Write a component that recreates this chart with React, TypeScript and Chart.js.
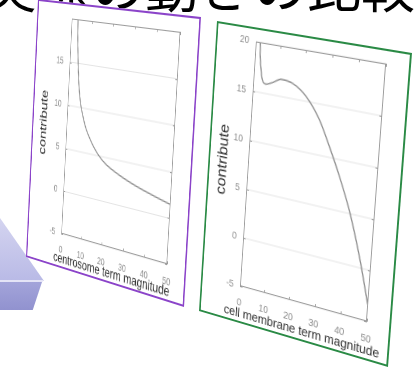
import { useEffect, useRef } from "react";
import { Chart, registerables } from "chart.js";

Chart.register(...registerables);

// ---- data ----
const titleText = "実際の動きの比較";

const xTickValues = [0, 10, 20, 30, 40, 50];

const centrosomeTicksY = [-5, 0, 5, 10, 15];
const centrosomeMagnitude = [3.0, 3.1, 3.8, 5.0, 6.2, 7.6, 9.4, 12.0, 15.5, 19.6, 26.2, 34.3, 42.4, 50];
const centrosomeContribute = [21.5, 20, 16.4, 12.8, 10.7, 9.3, 7.9, 6.6, 5.3, 4.3, 3.4, 2.6, 2.0, 1.5];

const membraneTicksY = [-5, 0, 5, 10, 15, 20];
const membraneMagnitude = [1.7, 1.8, 2.8, 3.6, 5.0, 7.5, 11.2, 15.7, 21.1, 26.8, 31.3, 35.9, 40.8, 45.9, 50];
const membraneContribute = [21, 20, 17.3, 16.3, 15.95, 16.2, 16.7, 16.5, 15.5, 13.5, 11.1, 8.4, 5.1, 0.7, -3.5];

const FONT = "'Liberation Sans', Arial, sans-serif";

type Pt = [number, number];

interface PanelSpec {
  w: number;
  h: number;
  quad: Pt[];
  area: { left: number; right: number; top: number; bottom: number };
  border: string;
  xs: number[];
  ys: number[];
  yTicks: number[];
  xTitle: string;
  tickSize: number;
  yTitleSize: number;
  xTitleSize: number;
  xTickPad: number;
  yTickPad: number;
  xTitleOffset: number;
  xTitleShift: number;
  yTitlePad: number;
}

const panels: PanelSpec[] = [
  {
    w: 240,
    h: 275,
    quad: [[38, -1], [201, 17], [184, 307], [26, 257]],
    area: { left: 56, right: 214, top: 8, bottom: 239 },
    border: "#8b44c9",
    xs: centrosomeMagnitude,
    ys: centrosomeContribute,
    yTicks: centrosomeTicksY,
    xTitle: "centrosome term magnitude",
    tickSize: 10,
    yTitleSize: 15.5,
    xTitleSize: 14,
    xTickPad: 3,
    yTickPad: 10,
    xTitleOffset: 26.5,
    xTitleShift: -3,
    yTitlePad: 7.7,
  },
  {
    w: 220,
    h: 302,
    quad: [[217, 21], [412, 53], [388, 367], [199, 311]],
    area: { left: 48, right: 194, top: 14, bottom: 264 },
    border: "#2a8a45",
    xs: membraneMagnitude,
    ys: membraneContribute,
    yTicks: membraneTicksY,
    xTitle: "cell membrane term magnitude",
    tickSize: 10,
    yTitleSize: 16.5,
    xTitleSize: 13,
    xTickPad: 3,
    yTickPad: 8,
    xTitleOffset: 28.5,
    xTitleShift: -1,
    yTitlePad: 6,
  },
];

// projective map of a w x h rectangle onto a four-corner quad (TL, TR, BR, BL)
function quadMatrix(w: number, h: number, q: Pt[]): string {
  const [[x0, y0], [x1, y1], [x2, y2], [x3, y3]] = q;
  const dx1 = x1 - x2, dx2 = x3 - x2, dx3 = x0 - x1 + x2 - x3;
  const dy1 = y1 - y2, dy2 = y3 - y2, dy3 = y0 - y1 + y2 - y3;
  const den = dx1 * dy2 - dx2 * dy1;
  const g = (dx3 * dy2 - dx2 * dy3) / den;
  const k = (dx1 * dy3 - dx3 * dy1) / den;
  const a = x1 - x0 + g * x1, b = x3 - x0 + k * x3, c = x0;
  const d = y1 - y0 + g * y1, e = y3 - y0 + k * y3, f = y0;
  return `matrix3d(${a / w},${d / w},0,${g / w},${b / h},${e / h},0,${k / h},0,0,1,0,${c},${f},0,1)`;
}

// boxed plot frame with inward tick marks on all four sides
const framePlugin = {
  id: "frame",
  afterDatasetsDraw(chart: any) {
    const { ctx, chartArea: a, scales } = chart;
    const sx = scales.x, sy = scales.y;
    const len = 3;
    ctx.save();
    ctx.strokeStyle = "#9c9c9c";
    ctx.lineWidth = 1;
    ctx.strokeRect(a.left + 0.5, a.top + 0.5, a.right - a.left - 1, a.bottom - a.top - 1);
    ctx.beginPath();
    sx.ticks.forEach((t: any) => {
      const px = Math.round(sx.getPixelForValue(t.value)) + 0.5;
      ctx.moveTo(px, a.bottom);
      ctx.lineTo(px, a.bottom - len);
      ctx.moveTo(px, a.top);
      ctx.lineTo(px, a.top + len);
    });
    sy.ticks.forEach((t: any) => {
      const py = Math.round(sy.getPixelForValue(t.value)) + 0.5;
      ctx.moveTo(a.left, py);
      ctx.lineTo(a.left + len, py);
      ctx.moveTo(a.right, py);
      ctx.lineTo(a.right - len, py);
    });
    ctx.stroke();
    ctx.restore();
  },
};

// x-axis caption drawn at its natural width (the built-in scale title squeezes it to the plot width)
const xCaptionPlugin = {
  id: "xCaption",
  afterDraw(chart: any, _args: any, opts: any) {
    const { ctx, chartArea: a } = chart;
    ctx.save();
    ctx.font = `${opts.size}px ${FONT}`;
    ctx.fillStyle = "#303030";
    ctx.textAlign = "center";
    ctx.textBaseline = "middle";
    ctx.fillText(opts.text, (a.left + a.right) / 2 + opts.shift, a.bottom + opts.offset);
    ctx.restore();
  },
};

function Panel({ spec }: { spec: PanelSpec }) {
  const ref = useRef<HTMLCanvasElement>(null);

  useEffect(() => {
    const { w, h, area } = spec;
    const chart = new Chart(ref.current as HTMLCanvasElement, {
      type: "line",
      data: {
        datasets: [
          {
            data: spec.xs.map((x, i) => ({ x, y: spec.ys[i] })),
            borderColor: "#8e8e8e",
            borderWidth: 1.4,
            pointRadius: 0,
            fill: false,
            cubicInterpolationMode: "monotone",
          },
        ],
      },
      options: {
        responsive: false,
        animation: false,
        devicePixelRatio: 2,
        layout: { padding: { left: 2, right: w - area.right, top: area.top, bottom: 0 } },
        plugins: {
          legend: { display: false },
          tooltip: { enabled: false },
          xCaption: {
            text: spec.xTitle,
            size: spec.xTitleSize,
            offset: spec.xTitleOffset,
            shift: spec.xTitleShift,
          },
        },
        scales: {
          x: {
            type: "linear",
            min: 0,
            max: 50,
            afterBuildTicks: (s: any) => {
              s.ticks = xTickValues.map((v) => ({ value: v }));
            },
            afterFit: (s: any) => {
              s.height = h - area.bottom;
            },
            grid: { display: false },
            border: { display: false },
            ticks: {
              font: { size: spec.tickSize, family: FONT },
              color: "#8a8a8a",
              padding: spec.xTickPad,
              maxRotation: 0,
              autoSkip: false,
            },
            title: { display: false },
          },
          y: {
            type: "linear",
            min: -5,
            max: 20,
            afterBuildTicks: (s: any) => {
              s.ticks = spec.yTicks.map((v) => ({ value: v }));
            },
            afterFit: (s: any) => {
              s.width = area.left - 2;
            },
            grid: { color: "#e4e4e4", lineWidth: 1, drawTicks: false },
            border: { display: false },
            ticks: {
              font: { size: spec.tickSize, family: FONT },
              color: "#8a8a8a",
              padding: spec.yTickPad,
            },
            title: {
              display: true,
              text: "contribute",
              color: "#303030",
              font: { size: spec.yTitleSize, family: FONT },
              padding: { top: spec.yTitlePad, bottom: 0 },
            },
          },
        },
      },
      plugins: [framePlugin, xCaptionPlugin],
    } as any);
    return () => chart.destroy();
  }, [spec]);

  return (
    <div
      style={{
        position: "absolute",
        left: 0,
        top: 0,
        width: spec.w,
        height: spec.h,
        background: "#fff",
        transformOrigin: "0 0",
        transform: quadMatrix(spec.w, spec.h, spec.quad),
      }}
    >
      <canvas
        ref={ref}
        width={spec.w}
        height={spec.h}
        style={{ position: "absolute", left: 0, top: 0, width: spec.w, height: spec.h, display: "block" }}
      />
      <div
        style={{
          position: "absolute",
          inset: 0,
          border: `2px solid ${spec.border}`,
          boxSizing: "border-box",
          pointerEvents: "none",
        }}
      />
    </div>
  );
}

export default function App() {
  return (
    <div
      style={{
        position: "fixed",
        left: 0,
        top: 0,
        width: 414,
        height: 371,
        overflow: "hidden",
        background: "#fff",
      }}
    >
      {/* slide heading */}
      <div
        style={{
          position: "absolute",
          left: -17,
          top: -42,
          fontFamily: "'Noto Sans CJK JP', sans-serif",
          fontSize: 54,
          lineHeight: "54px",
          color: "#000",
          whiteSpace: "nowrap",
        }}
      >
        {titleText}
      </div>

      {/* lavender block arrow in the lower-left corner */}
      <div
        style={{
          position: "absolute",
          left: 0,
          top: 218,
          width: 44,
          height: 63,
          background: "linear-gradient(180deg, #d4d4f0 0%, #b9bae6 100%)",
          clipPath: "polygon(0 0, 100% 100%, 0 100%)",
        }}
      />
      <div
        style={{
          position: "absolute",
          left: 0,
          top: 280,
          width: 44,
          height: 2,
          background: "#e4e4f6",
          clipPath: "polygon(0 0, 100% 0, 96% 100%, 0 100%)",
        }}
      />
      <div
        style={{
          position: "absolute",
          left: 0,
          top: 282,
          width: 42,
          height: 28,
          background: "linear-gradient(180deg, #a3a4da 0%, #9192cf 100%)",
          clipPath: "polygon(0 0, 100% 0, 78% 100%, 0 100%)",
        }}
      />

      {panels.map((p, i) => (
        <Panel key={i} spec={p} />
      ))}
    </div>
  );
}
